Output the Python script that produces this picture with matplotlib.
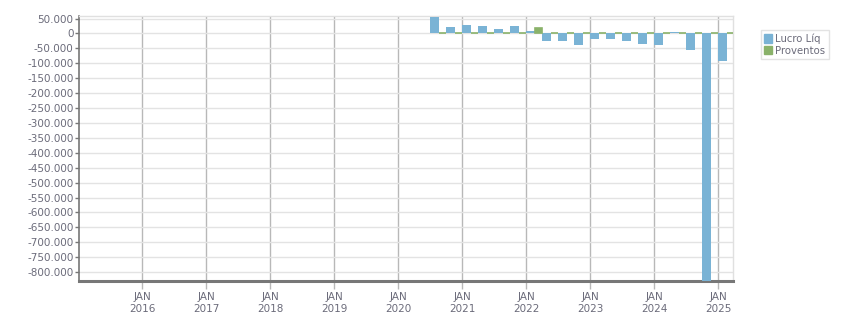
import numpy as np
import matplotlib
matplotlib.use('Agg')
import matplotlib.pyplot as plt
from matplotlib.ticker import FuncFormatter
from matplotlib.patches import Patch

# Quarterly results (year, month of quarter start)
quarters = ['2020-07', '2020-10', '2021-01', '2021-04', '2021-07', '2021-10',
            '2022-01', '2022-04', '2022-07', '2022-10', '2023-01', '2023-04',
            '2023-07', '2023-10', '2024-01', '2024-04', '2024-07', '2024-10',
            '2025-01']
lucro_liq = [55000, 21000, 28000, 24000, 14500, 24000,
             7500, -26000, -26000, -39000, -19000, -19000,
             -26000, -36000, -39000, 4000, -54000, -860000,
             -93000]
proventos = [0, 0, 0, 0, 0, 0,
             18000, 0, 0, 0, 0, 0,
             0, 0, 0, 0, 0, 0,
             0]
year_ticks = [2016, 2017, 2018, 2019, 2020, 2021, 2022, 2023, 2024, 2025]

blue = '#7ab3d5'
green = '#8ab26a'
text_col = '#6b6b7a'

# fractional year position for each quarter
x = np.array([int(q[:4]) + (int(q[5:]) - 1) / 12 for q in quarters])
w_blue = 0.14
w_green = 0.11

fig = plt.figure(figsize=(8.51, 3.13), dpi=100)
ax = fig.add_axes([0.0928, 0.1022, 0.7685, 0.8451])

ax.bar(x, lucro_liq, width=w_blue, align='edge', color=blue, zorder=3)
ax.bar(x + w_blue, proventos, width=w_green, align='edge', color=green,
       edgecolor=green, linewidth=1.2, zorder=3)

ax.set_xlim(2015.016, 2025.234)
ax.set_ylim(-830000, 57000)

ax.set_yticks(np.arange(-800000, 50001, 50000))
ax.yaxis.set_major_formatter(FuncFormatter(
    lambda v, p: f'{int(v):,}'.replace(',', '.')))
ax.set_xticks(year_ticks)
ax.set_xticklabels([f'JAN\n{y}' for y in year_ticks])

ax.grid(axis='y', color='#e3e3e3', linewidth=1, zorder=0)
ax.grid(axis='x', color='#b8b8b8', linewidth=1, zorder=1)

ax.tick_params(axis='y', length=3, width=1, color='#777777', pad=1,
               labelsize=7.5, labelcolor=text_col)
ax.tick_params(axis='x', length=6, width=1, color='#b8b8b8', pad=2,
               labelsize=7.5, labelcolor=text_col)

for s in ['top', 'right']:
    ax.spines[s].set_color('#e0e0e0')
    ax.spines[s].set_linewidth(1)
ax.spines['left'].set_color('#777777')
ax.spines['left'].set_linewidth(1.2)
ax.spines['bottom'].set_color('#777777')
ax.spines['bottom'].set_linewidth(2.2)

handles = [Patch(color=blue, label='Lucro Líq'),
           Patch(color=green, label='Proventos')]
leg = fig.legend(handles=handles, loc='upper left',
                 bbox_to_anchor=(0.888, 0.92), fontsize=7.3,
                 frameon=True, fancybox=False, handlelength=0.8,
                 handleheight=0.9, handletextpad=0.3, labelspacing=0.15,
                 borderpad=0.35, labelcolor=text_col)
leg.get_frame().set_edgecolor('#dddddd')
leg.get_frame().set_linewidth(1)

fig.savefig('out.png', dpi=100)
